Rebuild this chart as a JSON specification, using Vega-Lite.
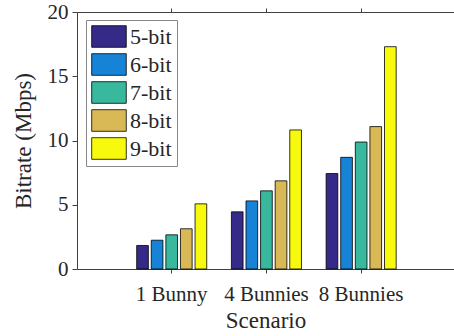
{
  "$schema": "https://vega.github.io/schema/vega-lite/v6.json",
  "width": 377,
  "height": 257,
  "autosize": {"type": "none"},
  "padding": {"left": 77, "top": 12, "right": 0, "bottom": 67},
  "background": "white",
  "config": {
    "view": {"stroke": null},
    "font": "'Liberation Serif', 'DejaVu Serif', 'Noto Serif', 'Times New Roman', Times, serif",
    "axis": {
      "domainColor": "#404040",
      "tickColor": "#404040",
      "labelColor": "#262626",
      "titleColor": "#262626",
      "labelFont": "'Liberation Serif', 'DejaVu Serif', 'Noto Serif', 'Times New Roman', Times, serif",
      "titleFont": "'Liberation Serif', 'DejaVu Serif', 'Noto Serif', 'Times New Roman', Times, serif",
      "labelFontSize": 21,
      "titleFontSize": 23,
      "titleFontWeight": "normal",
      "grid": false
    }
  },
  "data": {
    "values": [
      {"scenario": "1 Bunny", "bits": "5-bit", "bitrate": 1.83},
      {"scenario": "1 Bunny", "bits": "6-bit", "bitrate": 2.24},
      {"scenario": "1 Bunny", "bits": "7-bit", "bitrate": 2.66},
      {"scenario": "1 Bunny", "bits": "8-bit", "bitrate": 3.13},
      {"scenario": "1 Bunny", "bits": "9-bit", "bitrate": 5.07},
      {"scenario": "4 Bunnies", "bits": "5-bit", "bitrate": 4.45},
      {"scenario": "4 Bunnies", "bits": "6-bit", "bitrate": 5.30},
      {"scenario": "4 Bunnies", "bits": "7-bit", "bitrate": 6.08},
      {"scenario": "4 Bunnies", "bits": "8-bit", "bitrate": 6.86},
      {"scenario": "4 Bunnies", "bits": "9-bit", "bitrate": 10.82},
      {"scenario": "8 Bunnies", "bits": "5-bit", "bitrate": 7.43},
      {"scenario": "8 Bunnies", "bits": "6-bit", "bitrate": 8.69},
      {"scenario": "8 Bunnies", "bits": "7-bit", "bitrate": 9.88},
      {"scenario": "8 Bunnies", "bits": "8-bit", "bitrate": 11.08},
      {"scenario": "8 Bunnies", "bits": "9-bit", "bitrate": 17.30}
    ]
  },
  "resolve": {"axis": {"x": "independent"}},
  "layer": [
    {
      "mark": {"type": "bar", "stroke": "black", "strokeWidth": 0.8},
      "encoding": {
        "x": {
          "field": "scenario", "type": "nominal",
          "sort": ["1 Bunny", "4 Bunnies", "8 Bunnies"],
          "scale": {"paddingInner": 0, "paddingOuter": 0.49, "align": 0.51},
          "axis": {"title": "Scenario", "labelAngle": 0, "tickSize": 4, "labelPadding": 10, "titlePadding": 5}
        },
        "xOffset": {
          "field": "bits", "type": "nominal",
          "sort": ["5-bit", "6-bit", "7-bit", "8-bit", "9-bit"],
          "scale": {"paddingInner": 0.2, "paddingOuter": 0.845}
        },
        "y": {
          "field": "bitrate", "type": "quantitative",
          "scale": {"domain": [0, 20], "nice": false},
          "axis": {"title": "Bitrate (Mbps)", "values": [0, 5, 10, 15, 20], "tickSize": 5, "labelPadding": 4, "titlePadding": 12}
        },
        "color": {
          "field": "bits", "type": "nominal",
          "sort": ["5-bit", "6-bit", "7-bit", "8-bit", "9-bit"],
          "scale": {
            "domain": ["5-bit", "6-bit", "7-bit", "8-bit", "9-bit"],
            "range": ["#352a87", "#1783d6", "#38b89d", "#d8b956", "#f8fa0d"]
          },
          "legend": {
            "title": null,
            "orient": "none",
            "legendX": 9,
            "legendY": 8,
            "symbolType": "M-1,-1H2.2V1H-1Z",
            "symbolSize": 467,
            "symbolStrokeColor": "black",
            "symbolStrokeWidth": 0.8,
            "symbolOpacity": 1,
            "labelFont": "'Liberation Serif', 'DejaVu Serif', 'Noto Serif', 'Times New Roman', Times, serif",
            "labelFontSize": 22,
            "labelColor": "#262626",
            "strokeColor": "#888888",
            "fillColor": "white",
            "padding": 5,
            "rowPadding": 3,
            "labelOffset": 16
          }
        }
      }
    },
    {
      "mark": {"type": "rule", "opacity": 0},
      "encoding": {
        "x": {
          "field": "scenario", "type": "nominal",
          "sort": ["1 Bunny", "4 Bunnies", "8 Bunnies"],
          "axis": {"orient": "top", "labels": false, "title": null, "tickSize": 4}
        }
      }
    }
  ]
}
